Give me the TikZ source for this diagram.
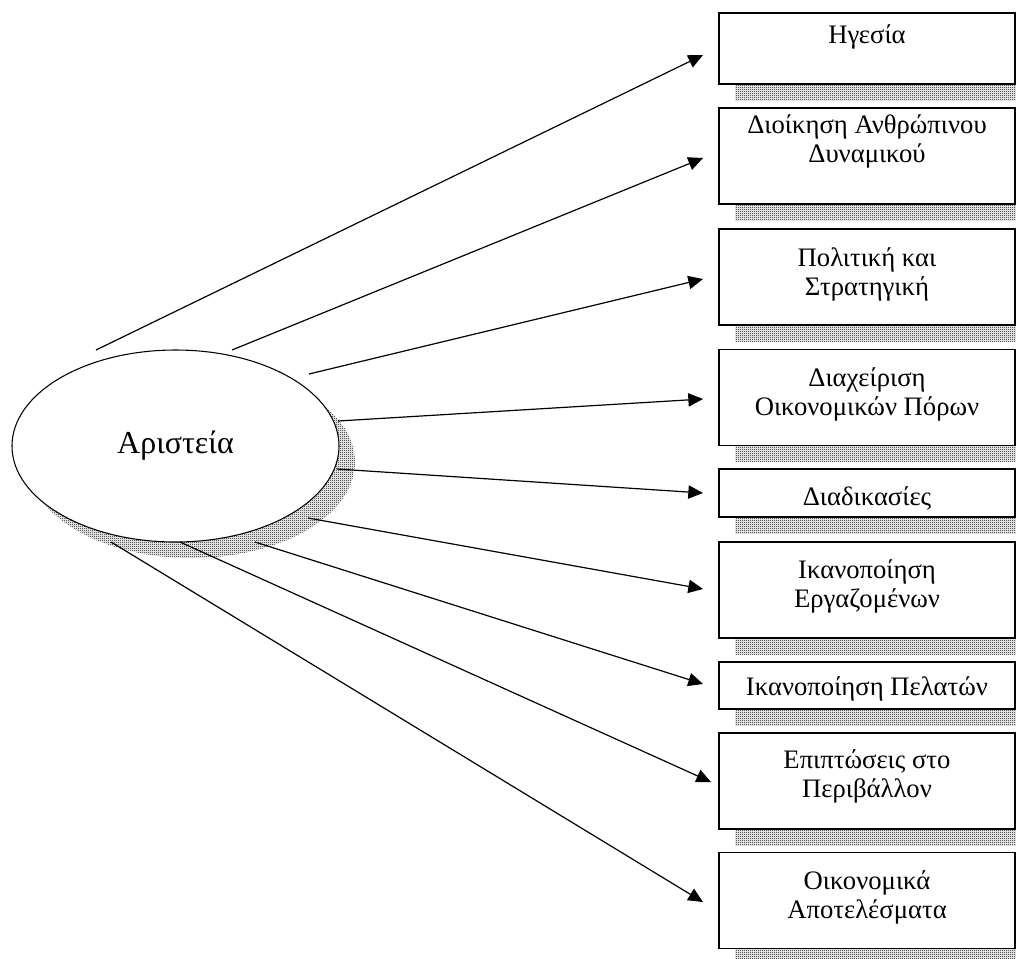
\documentclass[tikz,border=0pt]{standalone}
\usepackage{fontspec}
\setmainfont{Liberation Serif}
\usetikzlibrary{arrows.meta,shapes.geometric,patterns,backgrounds}

% fine two-tone checker used for the drop shadows
\pgfdeclarepatternformonly{finechecker}{\pgfpointorigin}{\pgfqpoint{1.5pt}{1.5pt}}{\pgfqpoint{1.5pt}{1.5pt}}{%
  \pgfpathrectangle{\pgfpointorigin}{\pgfqpoint{0.75pt}{0.75pt}}%
  \pgfpathrectangle{\pgfqpoint{0.75pt}{0.75pt}}{\pgfqpoint{0.75pt}{0.75pt}}%
  \pgfusepath{fill}}

\tikzset{
  x=0.75pt, y=-0.75pt,
  areabox/.style={draw, line width=1.2pt, fill=white, inner sep=0pt, outer sep=0pt,
                  minimum width=222pt},
  tall/.style={minimum height=72pt},
  lbl/.style={inner sep=0pt, align=center,
              font=\fontsize{20pt}{22pt}\selectfont},
  hub/.style={ellipse, draw, line width=0.8pt, fill=white, inner sep=0pt,
              minimum width=245.25pt, minimum height=144pt,
              font=\fontsize{24pt}{28pt}\selectfont},
  shade/.style={pattern=finechecker, pattern color=black},
  conn/.style={line width=0.9pt, -{Triangle[length=11pt,width=10pt]}},
}

\begin{document}
\begin{tikzpicture}
\useasboundingbox (0,0) rectangle (1016,958);
\clip (0,0) rectangle (1016,958);

% central ellipse
\node[hub] (ar) at (175.5,446) {Αριστεία};

% criteria boxes
\node[areabox, minimum height=53.25pt] (b1) at (867,48.5) {};
\node[areabox, tall] (b2) at (867,156) {};
\node[areabox, tall] (b3) at (867,277) {};
\node[areabox, tall] (b4) at (867,397.5) {};
\node[areabox, minimum height=36pt] (b5) at (867,493) {};
\node[areabox, tall] (b6) at (867,590) {};
\node[areabox, minimum height=35.25pt] (b7) at (867,685.5) {};
\node[areabox, tall] (b8) at (867,781) {};
\node[areabox, tall] (b9) at (867,900.5) {};

% box texts
\node[lbl, anchor=base]  (l1) at (867,43)  {Ηγεσία};
\node[lbl, anchor=north] (l2) at (867,114) {Διοίκηση Ανθρώπινου\\Δυναμικού};
\node[lbl, anchor=north] (l3) at (867,247) {Πολιτική και\\Στρατηγική};
\node[lbl, anchor=north] (l4) at (867,367) {Διαχείριση\\Οικονομικών Πόρων};
\node[lbl, anchor=base]  (l5) at (867,505) {Διαδικασίες};
\node[lbl, anchor=north] (l6) at (867,559) {Ικανοποίηση\\Εργαζομένων};
\node[lbl, anchor=base]  (l7) at (867,695) {Ικανοποίηση Πελατών};
\node[lbl, anchor=north] (l8) at (867,749) {Επιπτώσεις στο\\Περιβάλλον};
\node[lbl, anchor=north] (l9) at (867,870) {Οικονομικά\\Αποτελέσματα};

% drop shadows behind the ellipse and the boxes
\begin{scope}[on background layer]
  \fill[shade] ([shift={(16,16)}]ar.center) ellipse [x radius=122.6pt, y radius=72pt];
  \foreach \b in {b1,b2,b3,b4,b5,b6,b7,b8,b9}
    \fill[shade] ([shift={(16,16)}]\b.north west) rectangle ([shift={(16,16)}]\b.south east);
\end{scope}

% arrow tails near the ellipse and tips in front of the boxes
\coordinate (t1) at (96,350);   \coordinate (h1) at (703,55);
\coordinate (t2) at (232,350);  \coordinate (h2) at (703,158);
\coordinate (t3) at (309,374);  \coordinate (h3) at (703,279);
\coordinate (t4) at (338,421);  \coordinate (h4) at (703,399);
\coordinate (t5) at (337,469);  \coordinate (h5) at (703,493);
\coordinate (t6) at (308,518);  \coordinate (h6) at (703,589);
\coordinate (t7) at (255,542);  \coordinate (h7) at (703,684);
\coordinate (t8) at (180,542);  \coordinate (h8) at (711,782);
\coordinate (t9) at (111,542);  \coordinate (h9) at (703,902);

\foreach \i in {1,...,9}
  \draw[conn] (t\i) -- (h\i);
\end{tikzpicture}
\end{document}
